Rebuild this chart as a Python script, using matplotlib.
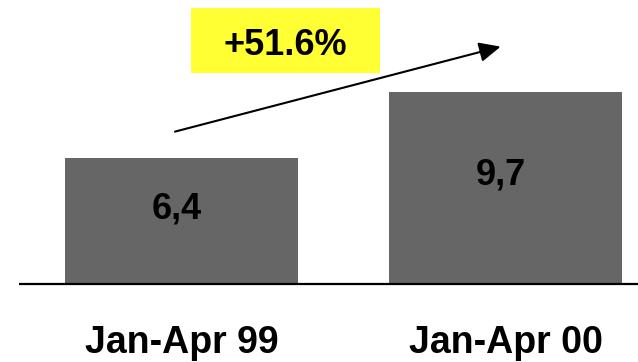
import matplotlib
matplotlib.use("Agg")
import matplotlib.pyplot as plt
from matplotlib.patches import Rectangle

plt.rcParams['font.family'] = ['Liberation Sans', 'DejaVu Sans']

categories = ["Jan-Apr 99", "Jan-Apr 00"]
values = [6.4, 9.7]
value_labels = ["6,4", "9,7"]
growth_label = "+51.6%"

W, H, DPI = 638, 362, 100
fig = plt.figure(figsize=(W / DPI, H / DPI), dpi=DPI)
ax = fig.add_axes([0, 0, 1, 1])
ax.set_xlim(-0.560, 1.409)
ax.set_ylim(-3.947, 14.37)
ax.axis("off")

x = list(range(len(categories)))
ax.bar(x, values, width=0.719, color="#666666", zorder=2)

# baseline under the bars
ax.plot([-0.502, 1.409], [0, 0], color="black", lw=1.6, zorder=3,
        solid_capstyle="butt")

for xi, v, lab in zip(x, values, value_labels):
    ax.text(xi - 0.015, v * 0.52, lab, ha="center", va="baseline",
            fontsize=26, fontweight="bold", color="black", zorder=4)

for xi, cat in zip(x, categories):
    ax.text(xi, -3.49, cat, ha="center", va="baseline",
            fontsize=27, fontweight="bold", color="black")

# growth arrow
ax.annotate("", xy=(0.985, 12.01), xytext=(-0.020, 7.71),
            arrowprops=dict(arrowstyle="-|>,head_length=1.3,head_width=0.6",
                            color="black", lw=1.5, shrinkA=0, shrinkB=0),
            zorder=5)

# highlighted growth box
ax.add_patch(Rectangle((0.0293, 10.69), 0.5834, 3.29, facecolor="#FFFF33",
                       edgecolor="none", zorder=4))
ax.text(0.321, 11.59, growth_label, ha="center", va="baseline",
        fontsize=26, fontweight="bold", color="black", zorder=5)

fig.savefig("out.png", dpi=DPI)
